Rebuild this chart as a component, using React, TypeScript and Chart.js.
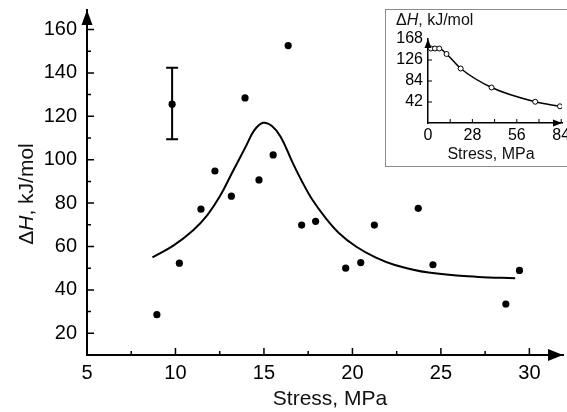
import React, { useEffect, useRef } from 'react';
import { Chart, registerables } from 'chart.js';

Chart.register(...registerables);

const FONT = '"Liberation Sans", Arial, Helvetica, sans-serif';

// ---------- main chart data ----------
const stressPts = [8.95, 10.22, 9.81, 11.44, 12.23, 13.16, 13.93, 14.72, 15.52, 16.37, 17.13, 17.92, 19.62, 20.47, 21.24, 23.72, 24.55, 28.67, 29.44];
const dHPts = [28.6, 52.3, 125.6, 77.2, 94.8, 83.2, 128.5, 90.7, 102.2, 152.6, 69.9, 71.6, 50.0, 52.6, 69.9, 77.6, 51.6, 33.5, 49.0];

const errStress = [9.81];
const errLow = [109.4];
const errHigh = [142.4];

const fitStress = [8.7, 9.9, 11.0, 11.8, 12.5, 13.2, 14.0, 14.45, 14.95, 15.45, 15.95, 16.6, 17.15, 17.7, 18.5, 19.2, 20.2, 21.3, 22.4, 24.3, 27.1, 29.2];
const fitDH = [55, 60.5, 67.5, 74.5, 83, 94, 106.5, 113.5, 117, 115.5, 110.5, 99, 90, 82, 73, 66.5, 60, 55, 51.5, 48, 46, 45.4];

const xTicks = [5, 10, 15, 20, 25, 30];
const xMinor = [7.5, 12.5, 17.5, 22.5, 27.5];
const yTicks = [20, 40, 60, 80, 100, 120, 140, 160];
const yMinor = [30, 50, 70, 90, 110, 130, 150];

// ---------- inset data ----------
const insetStress = [1.8, 4.4, 7.1, 11.7, 20.6, 40.1, 67.6, 83.2];
const insetDH = [149, 149, 149, 138, 109, 71, 42.5, 33.4];
const insetXTicks = [0, 28, 56, 84];
const insetXMinor = [14, 42, 70];
const insetYTicks = [42, 84, 126, 168];

function drawMixed(ctx: CanvasRenderingContext2D, parts: { t: string; italic?: boolean }[], size: number, x: number, y: number, align: 'left' | 'center') {
  const fonts = parts.map(p => `${p.italic ? 'italic ' : ''}${size}px ${FONT}`);
  let total = 0;
  const widths = parts.map((p, i) => { ctx.font = fonts[i]; const w = ctx.measureText(p.t).width; total += w; return w; });
  let cx = align === 'center' ? x - total / 2 : x;
  ctx.textAlign = 'left';
  ctx.textBaseline = 'alphabetic';
  parts.forEach((p, i) => { ctx.font = fonts[i]; ctx.fillText(p.t, cx, y); cx += widths[i]; });
}

const mainDecor = {
  id: 'mainDecor',
  afterDatasetsDraw(chart: any) {
    const { ctx, scales, chartArea } = chart;
    const x = scales.x, y = scales.y;
    const ax = chartArea.left, ay = chartArea.bottom;
    ctx.save();
    ctx.strokeStyle = '#000';
    ctx.fillStyle = '#000';
    ctx.lineWidth = 1.5;
    ctx.beginPath();
    xTicks.forEach(v => { const p = x.getPixelForValue(v); ctx.moveTo(p, ay); ctx.lineTo(p, ay - 7); });
    xMinor.forEach(v => { const p = x.getPixelForValue(v); ctx.moveTo(p, ay); ctx.lineTo(p, ay - 4); });
    yTicks.forEach(v => { const p = y.getPixelForValue(v); ctx.moveTo(ax, p); ctx.lineTo(ax + 7, p); });
    yMinor.forEach(v => { const p = y.getPixelForValue(v); ctx.moveTo(ax, p); ctx.lineTo(ax + 4, p); });
    ctx.stroke();
    // arrows
    ctx.beginPath();
    ctx.moveTo(ax, chartArea.top);
    ctx.lineTo(ax - 5.5, chartArea.top + 15);
    ctx.lineTo(ax + 5.5, chartArea.top + 15);
    ctx.closePath();
    ctx.fill();
    ctx.beginPath();
    ctx.moveTo(chartArea.right, ay);
    ctx.lineTo(chartArea.right - 15, ay - 6);
    ctx.lineTo(chartArea.right - 15, ay + 6);
    ctx.closePath();
    ctx.fill();
    // error bars
    ctx.lineWidth = 2;
    errStress.forEach((s, i) => {
      const px = x.getPixelForValue(s);
      const pl = y.getPixelForValue(errLow[i]);
      const ph = y.getPixelForValue(errHigh[i]);
      ctx.beginPath();
      ctx.moveTo(px, pl); ctx.lineTo(px, ph);
      ctx.moveTo(px - 6, pl); ctx.lineTo(px + 6, pl);
      ctx.moveTo(px - 6, ph); ctx.lineTo(px + 6, ph);
      ctx.stroke();
    });
    // axis titles
    ctx.fillStyle = '#111';
    drawMixed(ctx, [{ t: 'Stress, MPa' }], 21, 330, 405, 'center');
    ctx.save();
    ctx.translate(33, 194);
    ctx.rotate(-Math.PI / 2);
    drawMixed(ctx, [{ t: 'Δ' }, { t: 'H', italic: true }, { t: ', kJ/mol' }], 21, 0, 0, 'center');
    ctx.restore();
    ctx.restore();
  },
};

const insetDecor = {
  id: 'insetDecor',
  afterDatasetsDraw(chart: any) {
    const { ctx, scales, chartArea } = chart;
    const x = scales.x, y = scales.y;
    const ax = chartArea.left, ay = chartArea.bottom;
    ctx.save();
    ctx.strokeStyle = '#000';
    ctx.fillStyle = '#000';
    ctx.lineWidth = 1;
    ctx.beginPath();
    insetXTicks.slice(1).forEach(v => { const p = x.getPixelForValue(v); ctx.moveTo(p, ay); ctx.lineTo(p, ay - 4); });
    insetXMinor.forEach(v => { const p = x.getPixelForValue(v); ctx.moveTo(p, ay); ctx.lineTo(p, ay - 4); });
    insetYTicks.slice(0, 3).forEach(v => { const p = y.getPixelForValue(v); ctx.moveTo(ax, p); ctx.lineTo(ax + 4, p); });
    ctx.stroke();
    ctx.beginPath();
    ctx.moveTo(ax, chartArea.top);
    ctx.lineTo(ax - 3.5, chartArea.top + 9);
    ctx.lineTo(ax + 3.5, chartArea.top + 9);
    ctx.closePath();
    ctx.fill();
    ctx.beginPath();
    ctx.moveTo(chartArea.right, ay);
    ctx.lineTo(chartArea.right - 9, ay - 3.5);
    ctx.lineTo(chartArea.right - 9, ay + 3.5);
    ctx.closePath();
    ctx.fill();
    ctx.fillStyle = '#111';
    drawMixed(ctx, [{ t: 'Δ' }, { t: 'H', italic: true }, { t: ', kJ/mol' }], 16, 10, 15, 'left');
    drawMixed(ctx, [{ t: 'Stress, MPa' }], 16, 105, 148.5, 'center');
    ctx.restore();
  },
};

export default function App() {
  const mainRef = useRef<HTMLCanvasElement>(null);
  const insetRef = useRef<HTMLCanvasElement>(null);

  useEffect(() => {
    const main = new Chart(mainRef.current!, {
      type: 'scatter',
      data: {
        datasets: [
          {
            type: 'line',
            data: fitStress.map((s, i) => ({ x: s, y: fitDH[i] })),
            borderColor: '#000',
            borderWidth: 2,
            pointRadius: 0,
            tension: 0.4,
            fill: false,
          } as any,
          {
            type: 'scatter',
            data: stressPts.map((s, i) => ({ x: s, y: dHPts[i] })),
            backgroundColor: '#000',
            borderColor: '#000',
            pointRadius: 3.6,
            borderWidth: 0,
          },
        ],
      },
      options: {
        responsive: false,
        animation: false,
        devicePixelRatio: 1,
        layout: { padding: { top: 10, right: 1, left: 0, bottom: 0 } },
        plugins: { legend: { display: false }, tooltip: { enabled: false } },
        scales: {
          x: {
            type: 'linear',
            min: 5,
            max: 31.9,
            grid: { display: false, drawTicks: false },
            border: { display: true, color: '#000', width: 2 },
            afterBuildTicks: (s: any) => { s.ticks = xTicks.map(v => ({ value: v })); },
            afterFit: (s: any) => { s.height = 57; s.paddingLeft = 0; s.paddingRight = 0; },
            ticks: { color: '#000', padding: 6, font: { family: FONT, size: 20 }, maxRotation: 0 },
          },
          y: {
            type: 'linear',
            min: 10,
            max: 169,
            grid: { display: false, drawTicks: false },
            border: { display: true, color: '#000', width: 2 },
            afterBuildTicks: (s: any) => { s.ticks = yTicks.map(v => ({ value: v })); },
            afterFit: (s: any) => { s.width = 87; s.paddingTop = 0; s.paddingBottom = 0; },
            ticks: { color: '#000', padding: 10, font: { family: FONT, size: 20 } },
          },
        },
      },
      plugins: [mainDecor],
    });

    const inset = new Chart(insetRef.current!, {
      type: 'line',
      data: {
        datasets: [
          {
            data: insetStress.map((s, i) => ({ x: s, y: insetDH[i] })),
            borderColor: '#000',
            borderWidth: 1.5,
            pointRadius: 2.5,
            pointBorderWidth: 1,
            pointBackgroundColor: '#fff',
            pointBorderColor: '#000',
            cubicInterpolationMode: 'monotone',
            fill: false,
          } as any,
        ],
      },
      options: {
        responsive: false,
        animation: false,
        devicePixelRatio: 1,
        layout: { padding: { top: 29, right: 5, left: 0, bottom: 0 } },
        plugins: { legend: { display: false }, tooltip: { enabled: false } },
        scales: {
          x: {
            type: 'linear',
            min: 0,
            max: 84.5,
            grid: { display: false, drawTicks: false },
            border: { display: true, color: '#000', width: 1.5 },
            afterBuildTicks: (s: any) => { s.ticks = insetXTicks.map(v => ({ value: v })); },
            afterFit: (s: any) => { s.height = 43; s.paddingLeft = 0; s.paddingRight = 0; },
            ticks: { color: '#000', padding: 3, font: { family: FONT, size: 16 }, maxRotation: 0 },
          },
          y: {
            type: 'linear',
            min: 0,
            max: 168,
            grid: { display: false, drawTicks: false },
            border: { display: true, color: '#000', width: 1.5 },
            afterBuildTicks: (s: any) => { s.ticks = insetYTicks.map(v => ({ value: v })); },
            afterFit: (s: any) => { s.width = 42; s.paddingTop = 0; s.paddingBottom = 0; },
            ticks: { color: '#000', padding: 5, font: { family: FONT, size: 16 } },
          },
        },
      },
      plugins: [insetDecor],
    });

    return () => { main.destroy(); inset.destroy(); };
  }, []);

  return (
    <div style={{ position: 'absolute', left: 0, top: 0, width: 567, height: 412, overflow: 'hidden', background: '#fff' }}>
      <canvas ref={mainRef} width={567} height={412} style={{ position: 'absolute', left: 0, top: 0, width: 567, height: 412 }} />
      <div style={{ position: 'absolute', left: 385, top: 9, width: 190, height: 158, boxSizing: 'border-box', border: '1px solid #8a8a8a', background: '#fff' }} />
      <canvas ref={insetRef} width={181} height={156} style={{ position: 'absolute', left: 386, top: 10, width: 181, height: 156 }} />
    </div>
  );
}
